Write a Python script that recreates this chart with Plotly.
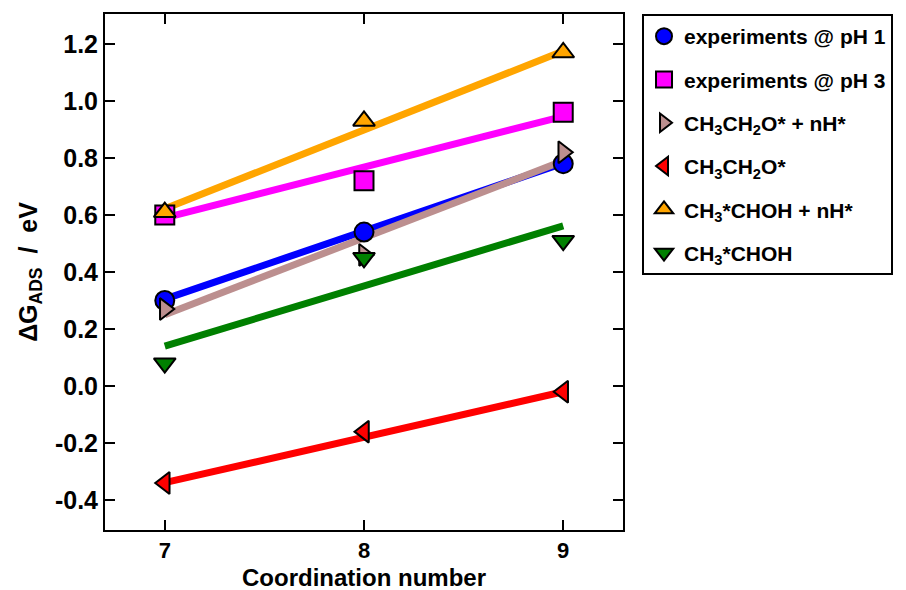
import plotly.graph_objects as go

coord = [7, 8, 9]
series_names = [
    "experiments @ pH 1",
    "experiments @ pH 3",
    "CH<sub>3</sub>CH<sub>2</sub>O* + nH*",
    "CH<sub>3</sub>CH<sub>2</sub>O*",
    "CH<sub>3</sub>*CHOH + nH*",
    "CH<sub>3</sub>*CHOH",
]
exp_ph1 = [0.30, 0.54, 0.78]
exp_ph3 = [0.60, 0.72, 0.96]
ethoxy_nh = [0.27, 0.46, 0.82]
ethoxy = [-0.34, -0.16, -0.02]
hydroxyethyl_nh = [0.61, 0.93, 1.17]
hydroxyethyl = [0.08, 0.45, 0.51]

# fitted trend lines, read at x = 7 and x = 9
fit_x = [7, 9]
fit_ph1 = [0.305, 0.782]
fit_ph3 = [0.590, 0.946]
fit_ethoxy_nh = [0.250, 0.790]
fit_ethoxy = [-0.339, -0.020]
fit_hydroxyethyl_nh = [0.622, 1.175]
fit_hydroxyethyl = [0.140, 0.562]

ytick_vals = [-0.4, -0.2, 0.0, 0.2, 0.4, 0.6, 0.8, 1.0, 1.2]
ytick_text = ["-0.4", "-0.2", "0.0", "0.2", "0.4", "0.6", "0.8", "1.0", "1.2"]
xtick_vals = [7, 8, 9]
xtick_text = ["7", "8", "9"]
x_title = "Coordination number"
y_title = "ΔG<sub>ADS</sub>  /  eV"

colors = ["#0000ff", "#ff00ff", "#bc8f8f", "#ff0000", "#ffa500", "#008000"]
symbols = ["circle", "square", "triangle-right", "triangle-left", "triangle-up", "triangle-down"]
values = [exp_ph1, exp_ph3, ethoxy_nh, ethoxy, hydroxyethyl_nh, hydroxyethyl]
fits = [fit_ph1, fit_ph3, fit_ethoxy_nh, fit_ethoxy, fit_hydroxyethyl_nh, fit_hydroxyethyl]

FONT = "Liberation Sans, Arial, sans-serif"

fig = go.Figure()
for i in [1, 4, 0, 2, 5, 3]:
    fig.add_trace(go.Scatter(
        x=fit_x, y=fits[i], mode="lines",
        line=dict(color=colors[i], width=7),
        showlegend=False, hoverinfo="skip",
    ))
for i in range(6):
    fig.add_trace(go.Scatter(
        x=coord, y=values[i], mode="markers", name=series_names[i],
        legendgroup=f"g{i}",
        marker=dict(symbol=symbols[i], color=colors[i], size=19,
                    line=dict(color="black", width=2)),
    ))

fig.add_annotation(
    text=x_title, xref="paper", yref="paper", x=0.5, y=0,
    xanchor="center", yanchor="top", yshift=-33, showarrow=False,
    borderpad=0,
    font=dict(family=FONT, size=24, weight="bold", color="black"),
)

fig.update_layout(
    width=906, height=590,
    margin=dict(l=97, r=291, t=4, b=68),
    paper_bgcolor="white", plot_bgcolor="white",
    font=dict(family=FONT, color="black"),
    legend=dict(
        x=1.0367, y=1.0, xanchor="left", yanchor="top",
        bgcolor="white", bordercolor="black", borderwidth=2,
        font=dict(family=FONT, size=21, weight="bold"),
        tracegroupgap=13,
        itemsizing="trace",
    ),
    xaxis=dict(
        range=[6.7, 9.3], tickvals=xtick_vals, ticktext=xtick_text,
        ticks="inside", ticklen=10, tickwidth=2, tickcolor="black",
        showline=True, linecolor="black", linewidth=2, mirror="ticks",
        showgrid=False, zeroline=False,
        tickfont=dict(size=22, weight="bold"),
    ),
    yaxis=dict(
        range=[-0.505, 1.305], tickvals=ytick_vals, ticktext=ytick_text,
        ticks="inside", ticklen=10, tickwidth=2, tickcolor="black",
        showline=True, linecolor="black", linewidth=2, mirror="ticks",
        showgrid=False, zeroline=False,
        tickfont=dict(size=25, weight="bold"),
        title=dict(text=y_title, font=dict(size=25, weight="bold"), standoff=10),
    ),
)

fig.write_html("out.html")
